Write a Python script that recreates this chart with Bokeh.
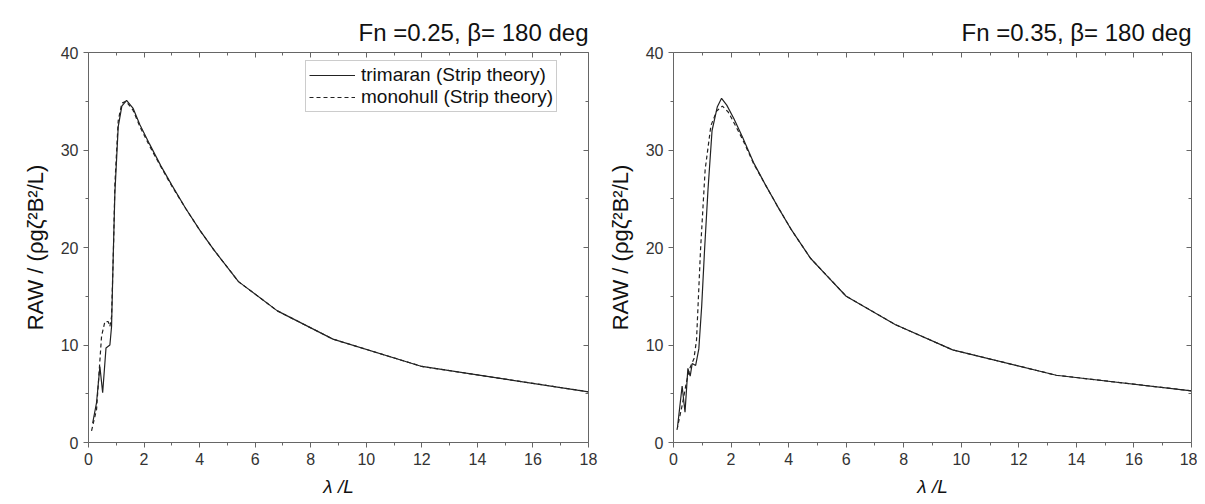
from bokeh.plotting import figure
from bokeh.layouts import row
from bokeh.models import LinearAxis, Range1d, FixedTicker, CustomJSTickFormatter, Legend, LegendItem
from bokeh.embed import file_html
from bokeh.resources import INLINE

# ---- data: Fn = 0.25 ----
x_tri_25 = [0.15, 0.29, 0.41, 0.51, 0.63, 0.77, 0.83, 0.89, 0.95, 1.07, 1.2, 1.37, 1.6, 1.85, 2.2, 2.6, 3.0, 3.5, 4.0, 4.5, 5.4, 6.8, 8.8, 12.0, 18.0]
y_tri_25 = [2.0, 4.1, 7.8, 5.1, 9.7, 10.0, 11.9, 19.1, 25.6, 32.4, 34.5, 35.1, 34.3, 32.6, 30.6, 28.4, 26.4, 24.0, 21.8, 19.8, 16.5, 13.5, 10.6, 7.8, 5.2]
x_mono_25 = [0.11, 0.29, 0.47, 0.59, 0.71, 0.77, 0.83, 0.9, 0.95, 1.07, 1.2, 1.35, 1.6, 1.85, 2.2, 2.6, 3.0, 3.5, 4.0, 4.5, 5.4, 6.8, 8.8, 12.0, 18.0]
y_mono_25 = [1.2, 3.4, 10.9, 12.4, 12.4, 11.9, 12.9, 20.0, 26.5, 33.0, 34.8, 35.0, 34.1, 32.4, 30.4, 28.3, 26.3, 24.0, 21.8, 19.8, 16.5, 13.5, 10.6, 7.8, 5.2]

# ---- data: Fn = 0.35 ----
x_tri_35 = [0.14, 0.3, 0.4, 0.5, 0.58, 0.65, 0.77, 0.88, 0.98, 1.08, 1.2, 1.34, 1.52, 1.67, 1.85, 2.1, 2.4, 2.8, 3.2, 3.6, 4.1, 4.76, 5.3, 6.0, 7.7, 9.7, 13.3, 18.0]
y_tri_35 = [1.6, 5.8, 3.1, 7.6, 6.8, 8.1, 7.9, 9.6, 14.0, 19.8, 26.0, 32.0, 34.4, 35.3, 34.6, 33.2, 31.3, 28.6, 26.4, 24.3, 21.8, 18.9, 17.2, 15.0, 12.1, 9.5, 6.9, 5.3]
x_mono_35 = [0.12, 0.3, 0.45, 0.55, 0.71, 0.8, 0.94, 1.1, 1.3, 1.5, 1.7, 1.9, 2.1, 2.4, 2.8, 3.2, 3.6, 4.1, 4.76, 5.3, 6.0, 7.7, 9.7, 13.3, 18.0]
y_mono_35 = [1.3, 3.8, 6.2, 7.5, 8.6, 10.5, 19.8, 28.0, 32.5, 34.0, 34.5, 33.9, 32.8, 31.1, 28.5, 26.4, 24.3, 21.8, 18.9, 17.2, 15.0, 12.1, 9.5, 6.9, 5.3]

titles = ["Fn =0.25, \u03b2= 180 deg", "Fn =0.35, \u03b2= 180 deg"]
x_major = [0, 2, 4, 6, 8, 10, 12, 14, 16, 18]
x_minor = [1, 3, 5, 7, 9, 11, 13, 15, 17]
y_major = [0, 10, 20, 30, 40]
y_minor = [5, 15, 25, 35]

FONT = "Liberation Sans"
AXC = "#666666"
TXT = "#333333"
LINEC = "#222222"
blank = CustomJSTickFormatter(code="return ''")


def make(title, xt, yt, xm, ym, width, bl, br, legend):
    p = figure(width=width, height=499, output_backend="svg", toolbar_location=None,
               x_range=Range1d(0, 18), y_range=Range1d(0, 40),
               min_border_left=bl, min_border_right=br, min_border_top=52, min_border_bottom=10)
    p.grid.visible = False
    p.outline_line_color = None
    p.title.text = title
    p.title.align = "right"
    p.title.text_font = FONT
    p.title.text_font_size = "24px"
    p.title.text_font_style = "normal"
    p.title.text_color = "#111111"
    p.title.standoff = 14

    ticker_x = FixedTicker(ticks=x_major, minor_ticks=x_minor)
    ticker_y = FixedTicker(ticks=y_major, minor_ticks=y_minor)
    p.xaxis.ticker = ticker_x
    p.yaxis.ticker = ticker_y
    p.xaxis.axis_label = "\u03bb /L"
    p.yaxis.axis_label = "RAW / (\u03c1g\u03b6\u00b2B\u00b2/L)"

    for ax in (p.xaxis[0], p.yaxis[0]):
        ax.axis_line_color = AXC
        ax.major_tick_line_color = AXC
        ax.minor_tick_line_color = AXC
        ax.major_tick_out = 5
        ax.major_tick_in = 0
        ax.minor_tick_out = 3
        ax.minor_tick_in = 0
        ax.major_label_text_font = FONT
        ax.major_label_text_font_size = "16px"
        ax.major_label_text_color = TXT
        ax.axis_label_text_font = FONT
        ax.axis_label_text_color = "#111111"
    p.xaxis.axis_label_text_font_size = "19px"
    p.xaxis.axis_label_text_font_style = "italic"
    p.xaxis.axis_label_standoff = 8
    p.yaxis.axis_label_text_font_size = "22px"
    p.yaxis.axis_label_text_font_style = "normal"
    p.yaxis.axis_label_standoff = 10

    top = LinearAxis(ticker=FixedTicker(ticks=x_major, minor_ticks=x_minor), formatter=blank)
    right = LinearAxis(ticker=FixedTicker(ticks=y_major, minor_ticks=y_minor), formatter=blank)
    for ax in (top, right):
        ax.axis_line_color = AXC
        ax.major_tick_line_color = AXC
        ax.minor_tick_line_color = AXC
        ax.major_tick_out = 0
        ax.major_tick_in = 5
        ax.minor_tick_out = 0
        ax.minor_tick_in = 3
        ax.major_label_standoff = 0
    p.add_layout(top, "above")
    p.add_layout(right, "right")

    r1 = p.line(xt, yt, line_color=LINEC, line_width=1.2)
    r2 = p.line(xm, ym, line_color=LINEC, line_width=1.2, line_dash="4 3")
    if legend:
        lg = Legend(items=[LegendItem(label="trimaran (Strip theory)", renderers=[r1]),
                           LegendItem(label="monohull (Strip theory)", renderers=[r2])],
                    location=(217, 330))
        lg.label_text_font = FONT
        lg.label_text_font_size = "19px"
        lg.label_text_color = "#111111"
        lg.border_line_color = "#999999"
        lg.glyph_width = 46
        lg.glyph_height = 20
        lg.label_height = 20
        lg.spacing = 0
        lg.padding = 3
        lg.margin = 0
        lg.label_standoff = 6
        p.add_layout(lg, "center")
    return p


p1 = make(titles[0], x_tri_25, y_tri_25, x_mono_25, y_mono_25, 600, 88, 12, True)
p2 = make(titles[1], x_tri_35, y_tri_35, x_mono_35, y_mono_35, 597, 73, 6, False)
layout = row(p1, p2, spacing=0)

open("out.html", "w").write(file_html(layout, INLINE))
